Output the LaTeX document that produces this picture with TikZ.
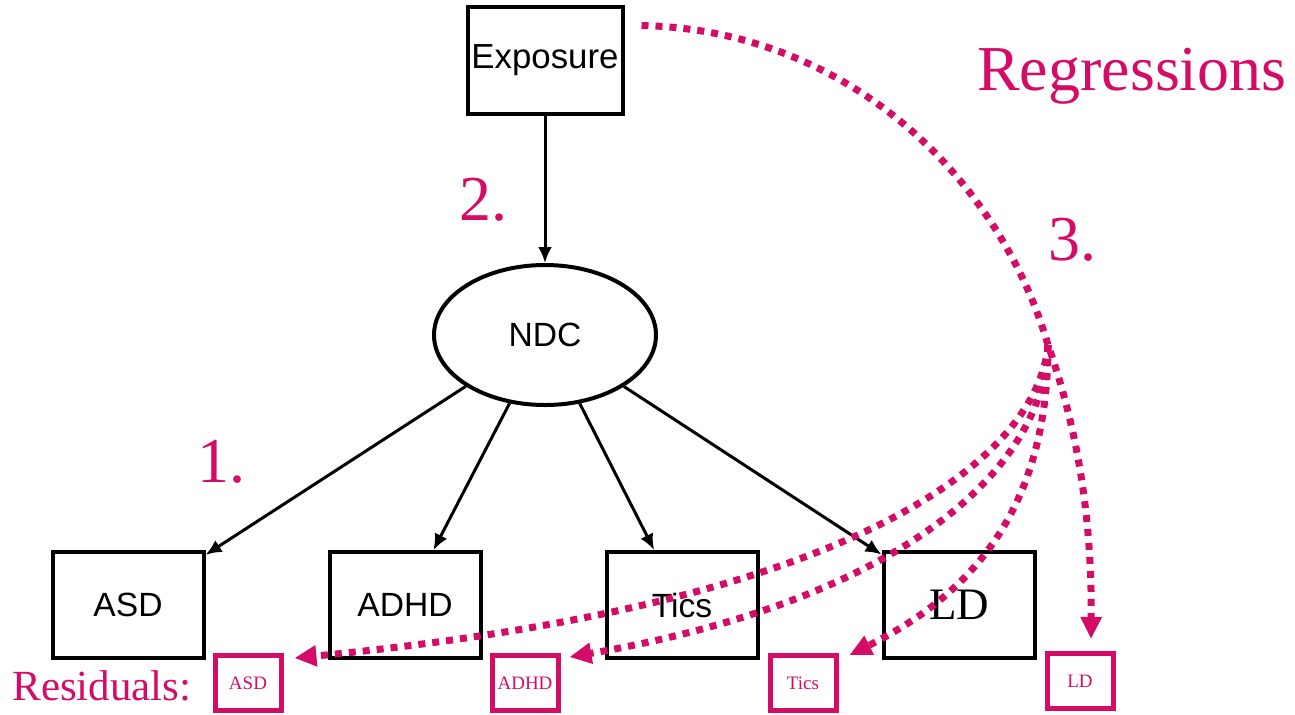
\documentclass[tikz,border=0pt]{standalone}
\usepackage{fontspec}
\setmainfont{Liberation Serif}
\setsansfont{Liberation Sans}
\usepackage{tikz}
\usetikzlibrary{positioning}
\usetikzlibrary{shapes.geometric}
\usetikzlibrary{arrows.meta}
\definecolor{regpink}{RGB}{213,12,102}

\begin{document}
\begin{tikzpicture}[
  x=0.5pt, y=-0.5pt,
  node distance=61pt,
  box/.style={draw,line width=2pt,minimum width=75.5pt,minimum height=53pt,inner sep=0pt,font=\sffamily\fontsize{16.8}{20}\selectfont},
  resbox/.style={draw=regpink,line width=2.5pt,minimum width=33pt,minimum height=27.5pt,inner sep=0pt,text=regpink,font=\fontsize{9.5}{11}\selectfont},
  lbl/.style={text=regpink,inner sep=0pt,font=\fontsize{32}{36}\selectfont},
  reg/.style={regpink,line width=3.5pt,dash pattern=on 3.5pt off 3.5pt,-{Triangle[length=11pt,width=10pt]}}
]
\useasboundingbox (0,0) rectangle (1295,714);

\node[box,minimum width=77.5pt,minimum height=53.5pt,font=\sffamily\fontsize{17.4}{20}\selectfont] (expo) at (545,60) {Exposure};
\node[draw,ellipse,line width=2pt,minimum width=111pt,minimum height=70pt,inner sep=0pt,
  font=\sffamily\fontsize{16.8}{20}\selectfont] (ndc) at (545,335) {NDC};

\node[box] (asd) at (128,605) {ASD};
\node[box, right=of asd] (adhd) {ADHD};
\node[box, right=of adhd] (tics) {Tics};
\node[box, right=of tics, font=\fontsize{22.5}{26}\selectfont] (ld) {LD};

\node[resbox] (asdr) at ([shift={(120,78)}]asd) {ASD};
\node[resbox] (adhdr) at ([shift={(120,78)}]adhd) {ADHD};
\node[resbox] (ticsr) at ([shift={(121,78)}]tics) {Tics};
\node[resbox] (ldr) at ([shift={(121,76)}]ld) {LD};

\path (expo) edge[-{Latex[length=8pt,width=7pt]},line width=1.5pt] (ndc)
(ndc) edge[-{Latex[length=8pt,width=7pt]},line width=1.5pt] (asd)
(ndc) edge[-{Latex[length=8pt,width=7pt]},line width=1.5pt] (adhd)
(ndc) edge[-{Latex[length=8pt,width=7pt]},line width=1.5pt] (tics)
(ndc) edge[-{Latex[length=8pt,width=7pt]},line width=1.5pt] (ld)
;

% regressions on the residuals
\coordinate (split) at (1048,345);
\draw[reg] ([shift={(17,21)}]expo.north east) .. controls (850,30) and (1000,180) .. (split)
  .. controls (1078,430) and (1092,520) .. ([shift={(11,-12)}]ldr.north);
\draw[reg] (split) .. controls (1048,520) and (960,600) .. ([shift={(11,2)}]ticsr.north east);
\draw[reg] (split) .. controls (1045,470) and (900,600) .. ([shift={(9,4)}]adhdr.north east);
\draw[reg] (split) .. controls (1040,440) and (900,600) .. ([shift={(11,5)}]asdr.north east);

\node[lbl] (two) at (483,200) {2.};
\node[lbl] (one) at (221,462) {1.};
\node[lbl] (three) at (1072,240) {3.};
\node[lbl,anchor=base east] (regtxt) at (1287,90) {Regressions};
\node[lbl,anchor=base west,font=\fontsize{21.5}{24}\selectfont] (restxt) at (12,700) {Residuals:};

\end{tikzpicture}
\end{document}
